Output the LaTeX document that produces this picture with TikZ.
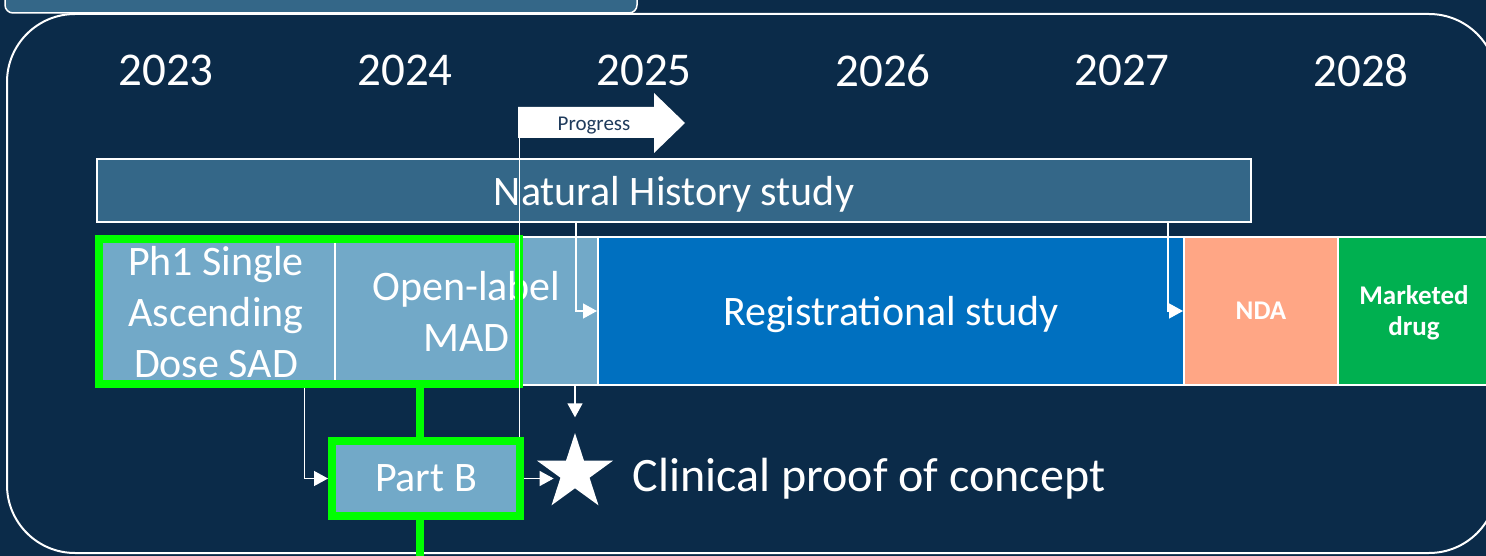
\documentclass[tikz,border=0pt]{standalone}
\usepackage{fontspec}
\setmainfont{Carlito}
\usetikzlibrary{arrows.meta,positioning,shapes.geometric}

\definecolor{slidenavy}{HTML}{0B2B49}
\definecolor{nhblue}{HTML}{346788}
\definecolor{phaseblue}{HTML}{72A9C8}
\definecolor{regblue}{HTML}{0070C0}
\definecolor{ndasalmon}{HTML}{FFA685}
\definecolor{druggreen}{HTML}{00B050}
\definecolor{framegreen}{HTML}{00FF00}
\definecolor{progtext}{HTML}{1F3B5C}

\begin{document}
\begin{tikzpicture}[x=1pt,y=-1pt,
  year/.style={text=white,font=\fontsize{47}{56}\selectfont},
  bar/.style={draw=white,line width=2pt,text=white,inner sep=0pt,align=center,
    font=\fontsize{42}{51}\selectfont},
  small bar/.style={bar,font=\bfseries\fontsize{27}{31}\selectfont},
  greenframe/.style={draw=framegreen,line width=8pt,inner sep=0pt},
  link/.style={draw=white,line width=1.3pt,-{Triangle[length=14pt,width=15pt]}}]
\useasboundingbox (0,0) rectangle (1486,556);
\clip (0,0) rectangle (1486,556);
\fill[slidenavy] (0,0) rectangle (1486,556);
% panel and tab
\draw[white,line width=2pt,rounded corners=68pt] (7,14) rectangle (1497,553);
\draw[white,line width=1.5pt,fill=nhblue,rounded corners=8pt] (5,-40) rectangle (637,13);

% years
\foreach \yr [count=\i from 0] in {2023,...,2028}
  \node[year] (y\yr) at (166+239*\i,70.5) {\yr};

% progress arrow
\fill[white] (518,107) -- (654,107) -- (654,93) -- (685,123) -- (654,153)
  -- (654,138) -- (518,138) -- cycle;
\node[text=progtext,font=\fontsize{21}{25}\selectfont] (progress) at (594,126) {Progress};

\node[bar,fill=nhblue,text depth=0pt,minimum width=1154,minimum height=63] (natural) at (674,190.5) {Natural History study};

% studies
\node[bar,fill=phaseblue,minimum width=238,minimum height=148] (sad) at (216,312) {Ph1 Single\\Ascending\\Dose SAD};
\node[bar,fill=phaseblue,minimum width=263,minimum height=148] (mad) at (466.5,311) {Open-label\\MAD};
\node[bar,fill=regblue,text depth=0pt,minimum width=586,minimum height=148] (reg) at (891,311) {Registrational study};
\node[small bar,fill=ndasalmon,minimum width=154,minimum height=148] (nda) at (1261,311) {NDA};
\node[small bar,fill=druggreen,text depth=0pt,minimum width=152,minimum height=148] (drug) at (1414,311) {Marketed\\drug};

% today
\coordinate (today) at (519.5,107);
\coordinate (trunk) at (420,560);
\node[greenframe,minimum width=420,minimum height=145] (phase1) at (308.75,311.75) {};
\node[bar,greenframe,fill=phaseblue,minimum width=188,minimum height=75] (partb) at (426,478.5) {Part B};
\draw[white,line width=1.5pt] (today) -- (today |- partb.north);
\draw[framegreen,line width=8pt] (trunk |- phase1.south) -- (trunk |- partb.north);
\draw[framegreen,line width=8pt] (trunk |- partb.south) -- (trunk);

\node[star,star points=5,star point ratio=2.618,fill=white,inner sep=0pt,minimum size=80] (poc) at (575,473) {};
\node[text=white,font=\fontsize{48}{56}\selectfont,right=33pt of poc,yshift=-6pt] (poclabel) {Clinical proof of concept};

% links
\draw[link] (natural.south) ++(-98,0) |- (reg.west);
\draw[link] (natural.south) ++(494,0) |- (nda.west);
\draw[link] (phase1.south) ++(-4,0) |- (partb.west);
\draw[link] (partb.east) -- (partb.east -| poc.west);
\draw[link,shorten >=15pt] (mad.south -| poc.north) -- (poc.north);
\end{tikzpicture}
\end{document}
